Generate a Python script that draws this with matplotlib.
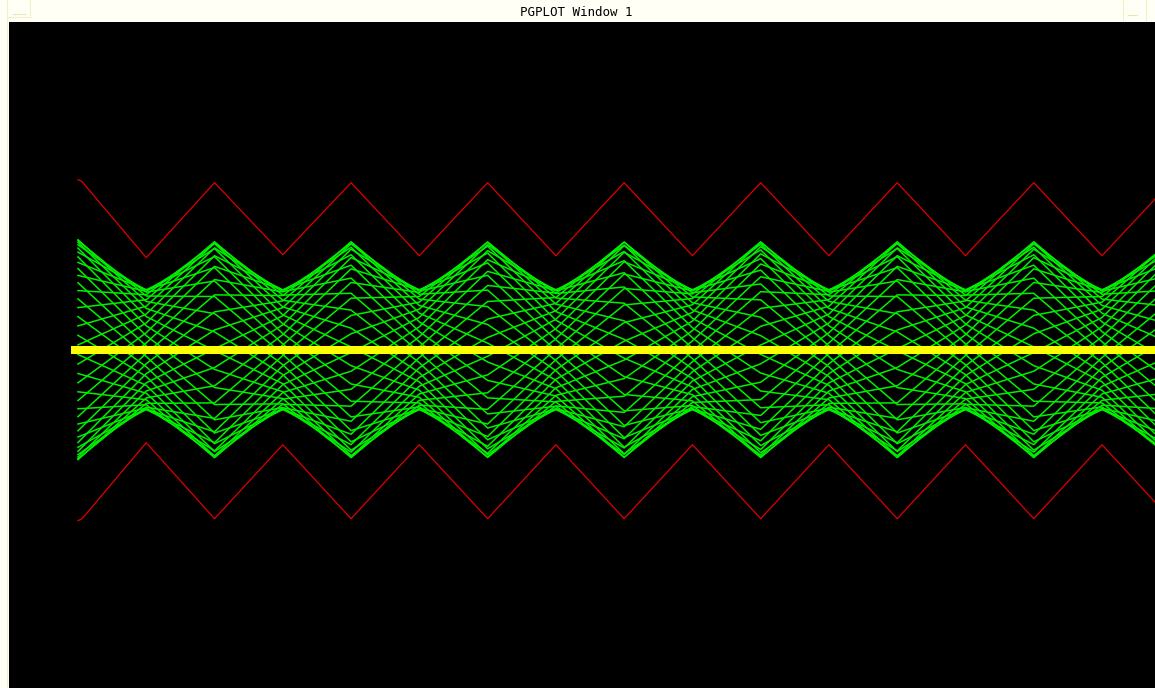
import numpy as np
import matplotlib
matplotlib.use("Agg")
import matplotlib.pyplot as plt
from matplotlib.lines import Line2D

# ---------------- data ----------------
# lattice nodes (thin lenses), in half-cell units
node_s = [0, 1, 2, 3, 4, 5, 6, 7, 8, 9, 10, 11, 12, 13, 14, 15, 16]
# betatron amplitude of the green beam at each node (mm)
green_amp = [11.0, 6.0, 10.8, 6.0, 10.8, 6.0, 10.8, 6.0, 10.8,
             6.0, 10.8, 6.0, 10.8, 6.0, 10.8, 6.0, 10.8]
# betatron phase at each node (deg)
node_phase = [0, 34, 68, 102, 136, 170, 204, 238, 272,
              306, 340, 374, 408, 442, 476, 510, 544]
# initial phase of each tracked particle (deg)
particle_phase = [2.5, 12.5, 22.5, 32.5, 42.5, 52.5, 62.5, 72.5, 82.5,
                  92.5, 102.5, 112.5, 122.5, 132.5, 142.5, 152.5, 162.5,
                  172.5, 182.5, 192.5, 202.5, 212.5, 222.5, 232.5, 242.5,
                  252.5, 262.5, 272.5, 282.5, 292.5, 302.5, 312.5, 322.5,
                  332.5, 342.5, 352.5]

# red envelope (mm)
red_s = [0, 0.06, 1, 2, 3, 4, 5, 6, 7, 8, 9, 10, 11, 12, 13, 14, 15, 16]
red_upper = [17.0, 16.8, 9.2, 16.7, 9.5, 16.7, 9.4, 16.7, 9.4, 16.7,
             9.4, 16.7, 9.4, 16.7, 9.4, 16.7, 9.4, 16.7]
red_lower = [-17.1, -16.9, -9.3, -16.9, -9.5, -16.9, -9.5, -16.9, -9.5,
             -16.9, -9.5, -16.9, -9.5, -16.9, -9.5, -16.9, -9.5, -16.9]

# beam centroid (yellow)
centroid_s = [-0.1, 16.5]
centroid_x = [0.0, 0.0]

title = "PGPLOT Window 1"

# ---------------- figure ----------------
W, H = 1155, 688
fig = plt.figure(figsize=(W / 100, H / 100), dpi=100, facecolor="#fffff6")

# window decoration (faint)
deco = "#f2f0c8"
def fline(x0, y0, x1, y1, c=deco, lw=0.8):
    fig.add_artist(Line2D([x0 / W, x1 / W], [1 - y0 / H, 1 - y1 / H],
                          color=c, lw=lw, transform=fig.transFigure))
fline(7, 0, 7, H)
fline(7, 17, 30, 17)
fline(29.5, 0, 29.5, 17)
fline(13, 14, 25, 14, c="#e8e6b8")
fline(1122.7, 0, 1122.7, 21)
fline(1145.7, 0, 1145.7, 21)
fline(1128, 15, 1137, 15, c="#e8e6b8")

fig.text(576 / W, 1 - 12.5 / H, title, ha="center", va="center",
         fontsize=9, family="DejaVu Sans Mono", color="black")

top = 21.7
left = 8.5
ax = fig.add_axes([left / W, 0, (W - left) / W, (H - top) / H])
ax.set_facecolor("black")
for sp in ax.spines.values():
    sp.set_visible(False)
ax.set_xticks([])
ax.set_yticks([])

x0px, dxpx = 78.0, 68.27
yc, sc = 349.7, 10.0
ax.set_xlim((left - x0px) / dxpx, (W - x0px) / dxpx)
ax.set_ylim((yc - H) / sc, (yc - top) / sc)

# red envelope
ax.plot(red_s, red_upper, color="#e00000", lw=0.9, zorder=2)
ax.plot(red_s, red_lower, color="#e00000", lw=0.9, zorder=2)

# green particle trajectories
amp = np.array(green_amp)
psi = np.radians(node_phase)
for ph in particle_phase:
    xs = amp * np.cos(psi + np.radians(ph))
    ax.plot(node_s, xs, color="#00f000", lw=1.1, zorder=3)

# yellow centroid
ax.plot(centroid_s, centroid_x, color="#ffff00", lw=5.8,
        solid_capstyle="butt", zorder=4)

fig.savefig("out.png", dpi=100, facecolor=fig.get_facecolor())
